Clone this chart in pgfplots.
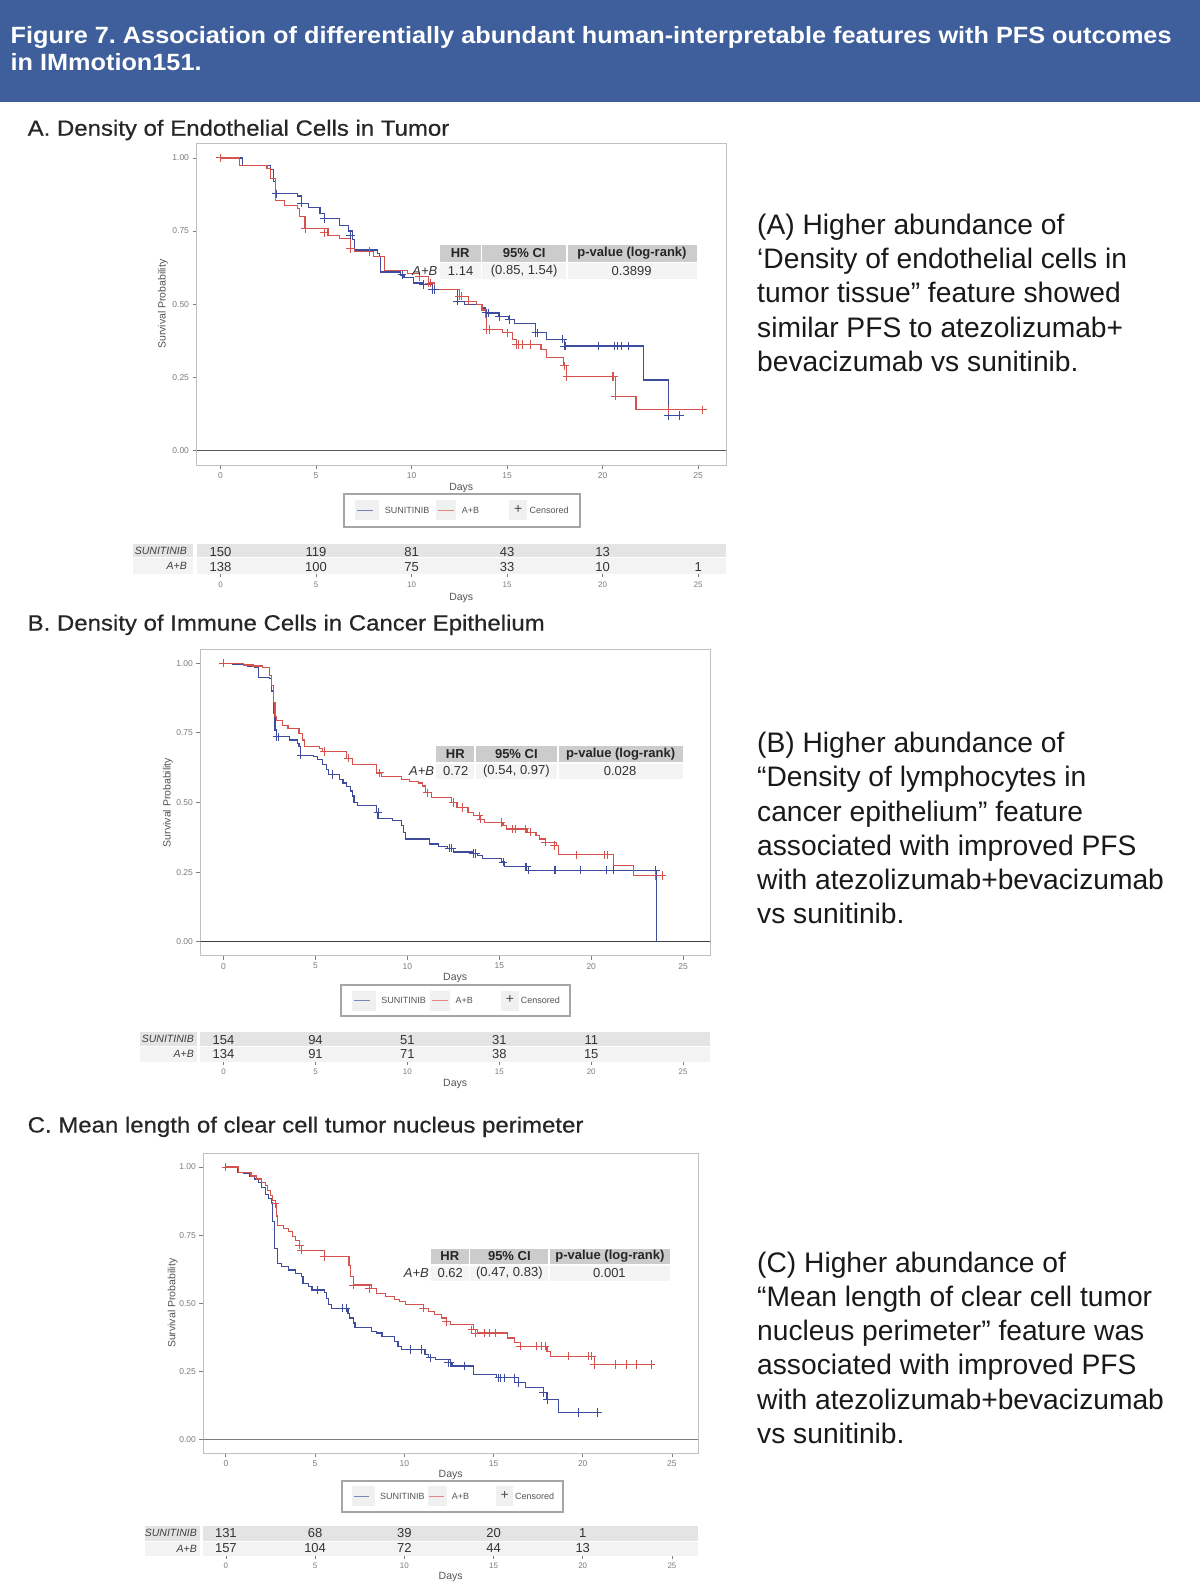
\documentclass[border=0pt]{standalone}
\usepackage{pgfplots}
\pgfplotsset{compat=1.18}
\usepackage{fontspec}
\setmainfont{Liberation Sans}
\newfontfamily\headfont[FakeBold=0.5]{Liberation Sans}
\usepackage{graphicx}
\frenchspacing

\definecolor{banner}{RGB}{62,95,155}
\definecolor{suni}{RGB}{62,76,158}
\definecolor{ab}{RGB}{214,82,78}
\definecolor{frame}{RGB}{192,192,192}
\definecolor{tickgray}{RGB}{125,125,125}
\definecolor{labgray}{RGB}{85,85,85}
\definecolor{hdrcell}{RGB}{204,204,204}
\definecolor{valcell}{RGB}{244,244,244}
\definecolor{rowA}{RGB}{228,228,228}
\definecolor{rowB}{RGB}{243,243,243}
\definecolor{legframe}{RGB}{165,165,165}
\definecolor{keybg}{RGB}{240,240,240}
\definecolor{zeroline}{RGB}{90,90,90}

\newcommand{\fs}[1]{\fontsize{#1}{#1}\selectfont}

\tikzset{rnum/.style={font=\fs{13}, text=black!80, anchor=center}}

\pgfplotsset{
  km/.style={
    scale only axis,
    xmin=-1.26, xmax=26.46, ymin=-0.05, ymax=1.05,
    axis line style={draw=frame, line width=1pt},
    xtick={0,5,10,15,20,25}, xticklabels={0,5,10,15,20,25},
    ytick={0,0.25,0.5,0.75,1}, yticklabels={0.00,0.25,0.50,0.75,1.00},
    xtick pos=bottom, ytick pos=left,
    tick align=outside, major tick length=4pt,
    every tick/.style={tickgray, line width=0.8pt},
    tick label style={font=\fs{8.5}, text=tickgray},
    xlabel={Days}, ylabel={Survival Probability},
    every axis x label/.style={anchor=center, font=\fs{10.5}, text=labgray},
    every axis y label/.style={anchor=center, rotate=90, font=\fs{10.5}, text=labgray},
  },
  risk/.style={
    scale only axis,
    xmin=-1.26, xmax=26.46, ymin=0, ymax=2,
    axis line style={draw=none},
    ytick=\empty,
    xtick={0,5,10,15,20,25}, xticklabels={0,5,10,15,20,25},
    xtick pos=bottom, tick align=outside, major tick length=3pt,
    every tick/.style={tickgray, line width=0.6pt},
    tick label style={font=\fs{8}, text=tickgray},
    xticklabel style={yshift=-1pt},
    xlabel={Days},
    every axis x label/.style={anchor=center, font=\fs{10.5}, text=labgray},
  },
  sunline/.style={const plot, color=suni, line width=1.2pt, mark=none},
  abline/.style={const plot, color=ab, line width=1.2pt, mark=none},
  suncens/.style={only marks, color=suni, mark=+, mark size=4.2pt, mark options={line width=0.9pt}},
  abcens/.style={only marks, color=ab, mark=+, mark size=4.2pt, mark options={line width=0.9pt}},
}

% legend: left x, width, top y, bottom y (pixels, y downward)
\newcommand{\kmlegend}[4]{%
  \draw[legframe, line width=2pt] (#1,#3) rectangle ({#1+#2},#4);
  \fill[keybg] ({#1+0.047*#2},{(#3+#4)/2-10}) rectangle ({#1+0.150*#2},{(#3+#4)/2+10});
  \fill[keybg] ({#1+0.390*#2},{(#3+#4)/2-10}) rectangle ({#1+0.477*#2},{(#3+#4)/2+10});
  \fill[keybg] ({#1+0.700*#2},{(#3+#4)/2-10}) rectangle ({#1+0.776*#2},{(#3+#4)/2+10});
  \draw[suni!70, line width=1.4pt] ({#1+0.057*#2},{(#3+#4)/2}) -- ({#1+0.126*#2},{(#3+#4)/2});
  \draw[ab!70, line width=1.4pt] ({#1+0.397*#2},{(#3+#4)/2}) -- ({#1+0.465*#2},{(#3+#4)/2});
  \node[anchor=west, inner sep=0pt, font=\fs{9}, text=labgray] at ({#1+0.174*#2},{(#3+#4)/2}) {SUNITINIB};
  \node[anchor=west, inner sep=0pt, font=\fs{9}, text=labgray] at ({#1+0.499*#2},{(#3+#4)/2}) {A+B};
  \node[anchor=center, inner sep=0pt, font=\fs{14}, text=black!70] at ({#1+0.738*#2},{(#3+#4)/2-1}) {+};
  \node[anchor=west, inner sep=0pt, font=\fs{9}, text=labgray] at ({#1+0.785*#2},{(#3+#4)/2}) {Censored};
}

% hazard-ratio box: x1 x2 x3 x4 x5 x6, header top, header bottom, value bottom
\newcommand{\hrbox}[9]{%
  \fill[hdrcell] (#1,#7) rectangle (#2,#8);
  \fill[hdrcell] (#3,#7) rectangle (#4,#8);
  \fill[hdrcell] (#5,#7) rectangle (#6,#8);
  \fill[valcell] (#1,{#8+1.6}) rectangle (#2,#9);
  \fill[valcell] (#3,{#8+1.6}) rectangle (#4,#9);
  \fill[valcell] (#5,{#8+1.6}) rectangle (#6,#9);
  \node[font=\bfseries\fs{13}, text=black!85] at ({(#1+#2)/2},{(#7+#8)/2}) {HR};
  \node[font=\bfseries\fs{13}, text=black!85] at ({(#3+#4)/2},{(#7+#8)/2}) {95\% CI};
  \node[font=\bfseries\fs{13}, text=black!85] at ({(#5+#6)/2},{(#7+#8)/2}) {p-value (log-rank)};
}
\newcommand{\hrvals}[9]{%
  \node[font=\itshape\fs{13}, text=black!80, anchor=east, inner sep=0pt] at ({#1-2},{(#8+#9)/2}) {A+B};
  \node[font=\fs{13}, text=black!80] at ({(#1+#2)/2},{(#8+#9)/2}) {#5};
  \node[font=\fs{13}, text=black!80] at ({(#2+#3)/2},{(#8+#9)/2}) {#6};
  \node[font=\fs{13}, text=black!80] at ({(#3+#4)/2},{(#8+#9)/2}) {#7};
}

\begin{document}
\begin{tikzpicture}
\useasboundingbox (0,0) rectangle (1200pt,-1595pt);
\fill[white] (0,0) rectangle (1200pt,-1595pt);

\begin{scope}[x=1pt, y=-1pt]
  % banner
  \fill[banner] (0,0) rectangle (1200,101.7);
  \node[anchor=base west, inner sep=0pt, text=white, font=\bfseries\fs{23.5}] at (10.5,43.5)
    {\scalebox{1.075}[1]{Figure 7. Association of differentially abundant human-interpretable features with PFS outcomes}};
  \node[anchor=base west, inner sep=0pt, text=white, font=\bfseries\fs{23.5}] at (10.5,70.5)
    {\scalebox{1.075}[1]{in IMmotion151.}};

  % section headings
  \node[anchor=base west, inner sep=0pt, text=black!85, font=\headfont\fs{22}] at (27.5,135.7)
    {\scalebox{1.09}[1]{A. Density of Endothelial Cells in Tumor}};
  \node[anchor=base west, inner sep=0pt, text=black!85, font=\headfont\fs{22}] at (27.5,630.5)
    {\scalebox{1.09}[1]{B. Density of Immune Cells in Cancer Epithelium}};
  \node[anchor=base west, inner sep=0pt, text=black!85, font=\headfont\fs{22}] at (27.5,1132.5)
    {\scalebox{1.09}[1]{C. Mean length of clear cell tumor nucleus perimeter}};

  % risk-table row bands
  \fill[rowA] (133,544) rectangle (193,557.3);   \fill[rowA] (196.5,544) rectangle (726,557.3);
  \fill[rowB] (133,558.3) rectangle (193,574.3); \fill[rowB] (196.5,558.3) rectangle (726,574.3);
  \fill[rowA] (139.5,1032.3) rectangle (197,1046); \fill[rowA] (200.4,1032.3) rectangle (710,1046);
  \fill[rowB] (139.5,1046.9) rectangle (197,1061.7); \fill[rowB] (200.4,1046.9) rectangle (710,1061.7);
  \fill[rowA] (145,1526) rectangle (200,1540.7); \fill[rowA] (203.4,1526) rectangle (698,1540.7);
  \fill[rowB] (145,1541.6) rectangle (200,1555.7); \fill[rowB] (203.4,1541.6) rectangle (698,1555.7);
  \node[anchor=east, inner sep=0pt, font=\itshape\fs{10.5}, text=black!75] at (187,550.6) {SUNITINIB};
  \node[anchor=east, inner sep=0pt, font=\itshape\fs{10.5}, text=black!75] at (187,566.3) {A+B};
  \node[anchor=east, inner sep=0pt, font=\itshape\fs{10.5}, text=black!75] at (194,1039.1) {SUNITINIB};
  \node[anchor=east, inner sep=0pt, font=\itshape\fs{10.5}, text=black!75] at (194,1054.3) {A+B};
  \node[anchor=east, inner sep=0pt, font=\itshape\fs{10.5}, text=black!75] at (197,1533.3) {SUNITINIB};
  \node[anchor=east, inner sep=0pt, font=\itshape\fs{10.5}, text=black!75] at (197,1548.6) {A+B};
\end{scope}

%% ---------------- Panel A ----------------
\begin{axis}[km, at={(196.5pt,-465pt)}, anchor=south west, width=529.5pt, height=321.7pt,
  x label style={at={([yshift=-23pt]axis description cs:0.5,0)}},
  y label style={at={([xshift=-33.5pt]axis description cs:0,0.5)}}]
  \draw[zeroline, line width=1.4pt] (axis cs:-1.26,0) -- (axis cs:26.46,0);
  \addplot[sunline] coordinates {
    (0,1.00) (1.14,0.975) (2.63,0.96) (2.75,0.92) (2.87,0.877) (4.02,0.87) (4.22,0.845)
    (4.62,0.83) (5.2,0.81) (5.42,0.793) (6.22,0.77) (6.71,0.75) (6.9,0.72) (7.01,0.685)
    (8.2,0.674) (8.3,0.662) (8.37,0.61) (9.4,0.60) (9.6,0.59) (10.1,0.572) (10.6,0.567)
    (11.1,0.549) (12.39,0.51) (12.79,0.50) (13.69,0.487) (13.88,0.47) (14.58,0.458)
    (15.08,0.447) (15.38,0.434) (16.47,0.402) (17.07,0.38) (18.0,0.357) (22.15,0.241)
    (23.45,0.119) (24.04,0.119)};
  \addplot[abline] coordinates {
    (0,1.00) (1.0,0.975) (2.43,0.963) (2.63,0.93) (2.87,0.855) (3.33,0.838) (4.02,0.827)
    (4.12,0.80) (4.42,0.759) (5.62,0.736) (6.22,0.725) (6.81,0.69) (7.01,0.68) (8.0,0.662)
    (8.6,0.615) (9.8,0.606) (10.4,0.595) (10.9,0.572) (11.2,0.55) (12.49,0.527) (12.99,0.51)
    (13.39,0.50) (13.69,0.48) (13.88,0.453) (13.94,0.413) (14.78,0.402) (15.28,0.38)
    (15.48,0.362) (16.77,0.345) (17.07,0.317) (17.97,0.289) (18.13,0.253) (20.66,0.185)
    (21.75,0.139) (25.24,0.139)};
  \addplot[suncens] coordinates {
    (2.93,0.877) (4.22,0.845) (5.42,0.793) (6.8,0.736) (9.5,0.60) (10.6,0.567) (11.1,0.549)
    (11.2,0.549) (12.4,0.51) (13.9,0.47) (14.0,0.47) (14.6,0.458) (15.1,0.447) (16.5,0.402)
    (16.6,0.402) (17.9,0.38) (18.0,0.357) (18.05,0.357) (19.76,0.357) (20.6,0.357)
    (20.8,0.357) (21.0,0.357) (21.35,0.357) (23.45,0.119) (24.04,0.119)};
  \addplot[abcens] coordinates {
    (0,1.00) (4.42,0.759) (5.42,0.745) (6.81,0.69) (7.81,0.68) (10.4,0.595) (10.9,0.572)
    (11.0,0.572) (12.49,0.527) (12.6,0.527) (12.99,0.51) (13.94,0.413) (14.1,0.413)
    (15.0,0.402) (15.48,0.362) (15.6,0.362) (15.8,0.362) (16.2,0.362) (18.0,0.289)
    (18.13,0.253) (20.5,0.253) (20.56,0.253) (20.66,0.185) (23.45,0.139) (25.24,0.139)};
\end{axis}
\begin{axis}[risk, at={(196.5pt,-574.3pt)}, anchor=south west, width=529.5pt, height=30.3pt,
  x label style={at={([yshift=-23.4pt]axis description cs:0.5,0)}}]
  \node[rnum] at (axis cs:0,1.5) {150};  \node[rnum] at (axis cs:5,1.5) {119};
  \node[rnum] at (axis cs:10,1.5) {81};  \node[rnum] at (axis cs:15,1.5) {43};
  \node[rnum] at (axis cs:20,1.5) {13};
  \node[rnum] at (axis cs:0,0.5) {138};  \node[rnum] at (axis cs:5,0.5) {100};
  \node[rnum] at (axis cs:10,0.5) {75};  \node[rnum] at (axis cs:15,0.5) {33};
  \node[rnum] at (axis cs:20,0.5) {10};  \node[rnum] at (axis cs:25,0.5) {1};
\end{axis}

%% ---------------- Panel B ----------------
\begin{axis}[km, at={(200.4pt,-955.6pt)}, anchor=south west, width=509.6pt, height=306.3pt,
  x label style={at={([yshift=-22.7pt]axis description cs:0.5,0)}},
  y label style={at={([xshift=-32.6pt]axis description cs:0,0.5)}}]
  \draw[black!75, line width=1.6pt] (axis cs:-1.26,0) -- (axis cs:26.46,0);
  \addplot[sunline] coordinates {
    (0,1.00) (0.5,0.996) (1.3,0.99) (1.7,0.985) (1.9,0.95) (2.5,0.945) (2.6,0.90) (2.7,0.82)
    (2.8,0.76) (2.9,0.736) (3.6,0.724) (4.0,0.712) (4.1,0.70) (4.2,0.67) (4.9,0.665)
    (5.1,0.653) (5.4,0.636) (5.6,0.618) (5.7,0.60) (6.3,0.582) (6.5,0.57) (6.7,0.558)
    (6.9,0.541) (7.0,0.523) (7.1,0.50) (7.3,0.488) (8.3,0.464) (8.4,0.443) (9.2,0.434)
    (9.7,0.417) (9.8,0.393) (9.9,0.369) (11.2,0.351) (11.7,0.343) (12.2,0.336) (12.5,0.322)
    (13.6,0.316) (13.8,0.31) (14.1,0.298) (15.1,0.286) (15.3,0.269) (16.6,0.257) (23.56,0)};
  \addplot[abline] coordinates {
    (0,1.00) (1.1,0.994) (1.6,0.99) (2.1,0.985) (2.5,0.955) (2.6,0.92) (2.7,0.86) (2.8,0.81)
    (2.9,0.795) (3.2,0.777) (3.5,0.766) (4.1,0.748) (4.3,0.724) (4.4,0.70) (5.2,0.695)
    (5.4,0.683) (6.7,0.659) (7.0,0.636) (8.3,0.606) (8.6,0.594) (9.7,0.582) (10.1,0.576)
    (10.6,0.57) (10.8,0.559) (11.0,0.535) (11.3,0.517) (12.4,0.50) (12.7,0.482) (13.3,0.464)
    (13.6,0.452) (13.9,0.44) (14.2,0.428) (15.2,0.417) (15.4,0.405) (16.5,0.393) (17.0,0.381)
    (17.2,0.369) (17.5,0.357) (18.1,0.346) (18.2,0.312) (21.2,0.275) (22.3,0.237) (23.96,0.237)};
  \addplot[suncens] coordinates {
    (2.9,0.736) (3.0,0.736) (4.2,0.67) (5.9,0.60) (8.4,0.464) (12.3,0.336) (12.4,0.336)
    (13.6,0.316) (13.7,0.316) (15.2,0.286) (16.4,0.269) (16.5,0.269) (16.6,0.257) (18.0,0.257)
    (18.05,0.257) (19.4,0.257) (20.8,0.257) (21.2,0.257) (23.5,0.257)};
  \addplot[abcens] coordinates {
    (0,1.00) (5.5,0.683) (6.8,0.659) (8.5,0.606) (11.1,0.535) (12.5,0.50) (13.0,0.482)
    (13.9,0.452) (14.0,0.44) (15.1,0.428) (15.7,0.405) (15.9,0.405) (16.4,0.405) (16.7,0.393)
    (17.5,0.357) (18.0,0.346) (19.2,0.312) (20.7,0.312) (20.9,0.312) (23.5,0.237) (23.86,0.237)};
\end{axis}
\begin{axis}[risk, at={(200.4pt,-1061.7pt)}, anchor=south west, width=509.6pt, height=29.4pt,
  x label style={at={([yshift=-22.6pt]axis description cs:0.5,0)}}]
  \node[rnum] at (axis cs:0,1.5) {154};  \node[rnum] at (axis cs:5,1.5) {94};
  \node[rnum] at (axis cs:10,1.5) {51};  \node[rnum] at (axis cs:15,1.5) {31};
  \node[rnum] at (axis cs:20,1.5) {11};
  \node[rnum] at (axis cs:0,0.5) {134};  \node[rnum] at (axis cs:5,0.5) {91};
  \node[rnum] at (axis cs:10,0.5) {71};  \node[rnum] at (axis cs:15,0.5) {38};
  \node[rnum] at (axis cs:20,0.5) {15};
\end{axis}

%% ---------------- Panel C ----------------
\begin{axis}[km, at={(203.4pt,-1453.3pt)}, anchor=south west, width=494.6pt, height=300pt,
  x label style={at={([yshift=-21.3pt]axis description cs:0.5,0)}},
  y label style={at={([xshift=-30.8pt]axis description cs:0,0.5)}}]
  \draw[zeroline!80, line width=1.2pt] (axis cs:-1.26,0) -- (axis cs:26.46,0);
  \addplot[sunline] coordinates {
    (0,1.00) (0.66,0.98) (1.0,0.975) (1.31,0.967) (1.61,0.956) (1.81,0.944) (2.01,0.926)
    (2.21,0.90) (2.41,0.883) (2.55,0.87) (2.61,0.80) (2.72,0.70) (2.88,0.646) (3.12,0.634)
    (3.52,0.622) (3.92,0.61) (4.22,0.598) (4.32,0.573) (4.63,0.561) (4.83,0.549) (5.53,0.54)
    (5.63,0.519) (5.73,0.495) (5.93,0.482) (6.84,0.464) (6.94,0.446) (7.14,0.428) (7.24,0.41)
    (8.15,0.397) (8.45,0.391) (8.75,0.379) (9.45,0.361) (9.65,0.343) (9.86,0.33) (11.16,0.312)
    (11.36,0.30) (11.77,0.294) (12.57,0.282) (12.67,0.27) (13.88,0.239) (15.18,0.227)
    (16.39,0.209) (16.79,0.191) (17.8,0.173) (18.0,0.148) (18.66,0.10) (20.82,0.10)};
  \addplot[abline] coordinates {
    (0,1.00) (0.7,0.98) (1.41,0.967) (1.71,0.956) (2.01,0.944) (2.21,0.932) (2.31,0.914)
    (2.51,0.895) (2.61,0.877) (2.76,0.865) (2.82,0.82) (2.88,0.786) (3.22,0.774) (3.52,0.762)
    (3.72,0.744) (3.92,0.731) (4.12,0.713) (4.22,0.695) (5.53,0.671) (6.9,0.64) (6.98,0.598)
    (7.14,0.567) (8.15,0.555) (8.45,0.537) (8.95,0.525) (9.45,0.515) (9.75,0.507) (10.06,0.495)
    (11.06,0.482) (11.36,0.47) (11.67,0.458) (12.07,0.446) (12.37,0.434) (12.57,0.422)
    (13.88,0.403) (14.08,0.391) (15.79,0.373) (16.19,0.355) (16.49,0.343) (18.0,0.324)
    (18.2,0.306) (20.66,0.276) (23.93,0.276)};
  \addplot[suncens] coordinates {
    (5.13,0.549) (6.54,0.482) (6.74,0.482) (10.36,0.33) (10.96,0.33) (11.46,0.30) (12.47,0.282)
    (12.57,0.282) (13.37,0.27) (15.29,0.227) (15.39,0.227) (15.59,0.227) (16.19,0.227)
    (16.39,0.209) (17.8,0.173) (18.0,0.148) (19.77,0.10) (20.82,0.10)};
  \addplot[abcens] coordinates {
    (0,1.00) (2.76,0.865) (4.12,0.713) (4.22,0.695) (5.53,0.671) (7.14,0.567) (8.04,0.555)
    (11.06,0.482) (12.37,0.434) (13.78,0.403) (13.98,0.391) (14.48,0.391) (14.78,0.391)
    (15.08,0.391) (16.49,0.343) (17.4,0.343) (17.7,0.343) (17.9,0.343) (19.21,0.306)
    (20.31,0.306) (20.51,0.306) (20.66,0.276) (21.82,0.276) (22.43,0.276) (23.03,0.276)
    (23.83,0.276)};
\end{axis}
\begin{axis}[risk, at={(203.4pt,-1555.7pt)}, anchor=south west, width=494.6pt, height=29.7pt,
  x label style={at={([yshift=-21.6pt]axis description cs:0.5,0)}}]
  \node[rnum] at (axis cs:0,1.5) {131};  \node[rnum] at (axis cs:5,1.5) {68};
  \node[rnum] at (axis cs:10,1.5) {39};  \node[rnum] at (axis cs:15,1.5) {20};
  \node[rnum] at (axis cs:20,1.5) {1};
  \node[rnum] at (axis cs:0,0.5) {157};  \node[rnum] at (axis cs:5,0.5) {104};
  \node[rnum] at (axis cs:10,0.5) {72};  \node[rnum] at (axis cs:15,0.5) {44};
  \node[rnum] at (axis cs:20,0.5) {13};
\end{axis}

\begin{scope}[x=1pt, y=-1pt]
  % hazard-ratio summaries
  \hrbox{439.6}{480.8}{482.4}{566}{567.5}{696.5}{245.3}{261.7}{279.3}
  \hrvals{439.6}{481.6}{566.7}{696.5}{1.14}{(0.85, 1.54)}{0.3899}{263.3}{279.3}
  \hrbox{436.3}{474.4}{476}{556.7}{558.5}{682.6}{746.3}{762.3}{778.9}
  \hrvals{436.3}{475.2}{557.6}{682.6}{0.72}{(0.54, 0.97)}{0.028}{763.6}{778.9}
  \hrbox{431}{468.6}{470.4}{548.3}{550.1}{669.7}{1248.7}{1264}{1280.7}
  \hrvals{431}{469.5}{549.2}{669.7}{0.62}{(0.47, 0.83)}{0.001}{1265.3}{1280.7}

  % legends
  \kmlegend{343.6}{236.6}{494}{526.7}
  \kmlegend{341.3}{228.5}{985}{1016}
  \kmlegend{341.5}{221}{1480.7}{1511.7}

  % descriptive text
  \begin{scope}[every node/.style={anchor=base west, inner sep=0pt, font=\fs{28.2}, text=black!90}]
    \node at (757,234.3) {(A) Higher abundance of};
    \node at (757,268.6) {‘Density of endothelial cells in};
    \node at (757,302.9) {tumor tissue” feature showed};
    \node at (757,337.2) {similar PFS to atezolizumab+};
    \node at (757,371.5) {bevacizumab vs sunitinib.};

    \node at (757,752.4) {(B) Higher abundance of};
    \node at (757,786.7) {“Density of lymphocytes in};
    \node at (757,821.0) {cancer epithelium” feature};
    \node at (757,855.3) {associated with improved PFS};
    \node at (757,889.6) {with atezolizumab+bevacizumab};
    \node at (757,923.9) {vs sunitinib.};

    \node at (757,1272) {(C) Higher abundance of};
    \node at (757,1306.3) {“Mean length of clear cell tumor};
    \node at (757,1340.6) {nucleus perimeter” feature was};
    \node at (757,1374.9) {associated with improved PFS};
    \node at (757,1409.2) {with atezolizumab+bevacizumab};
    \node at (757,1443.5) {vs sunitinib.};
  \end{scope}
\end{scope}
\end{tikzpicture}
\end{document}
